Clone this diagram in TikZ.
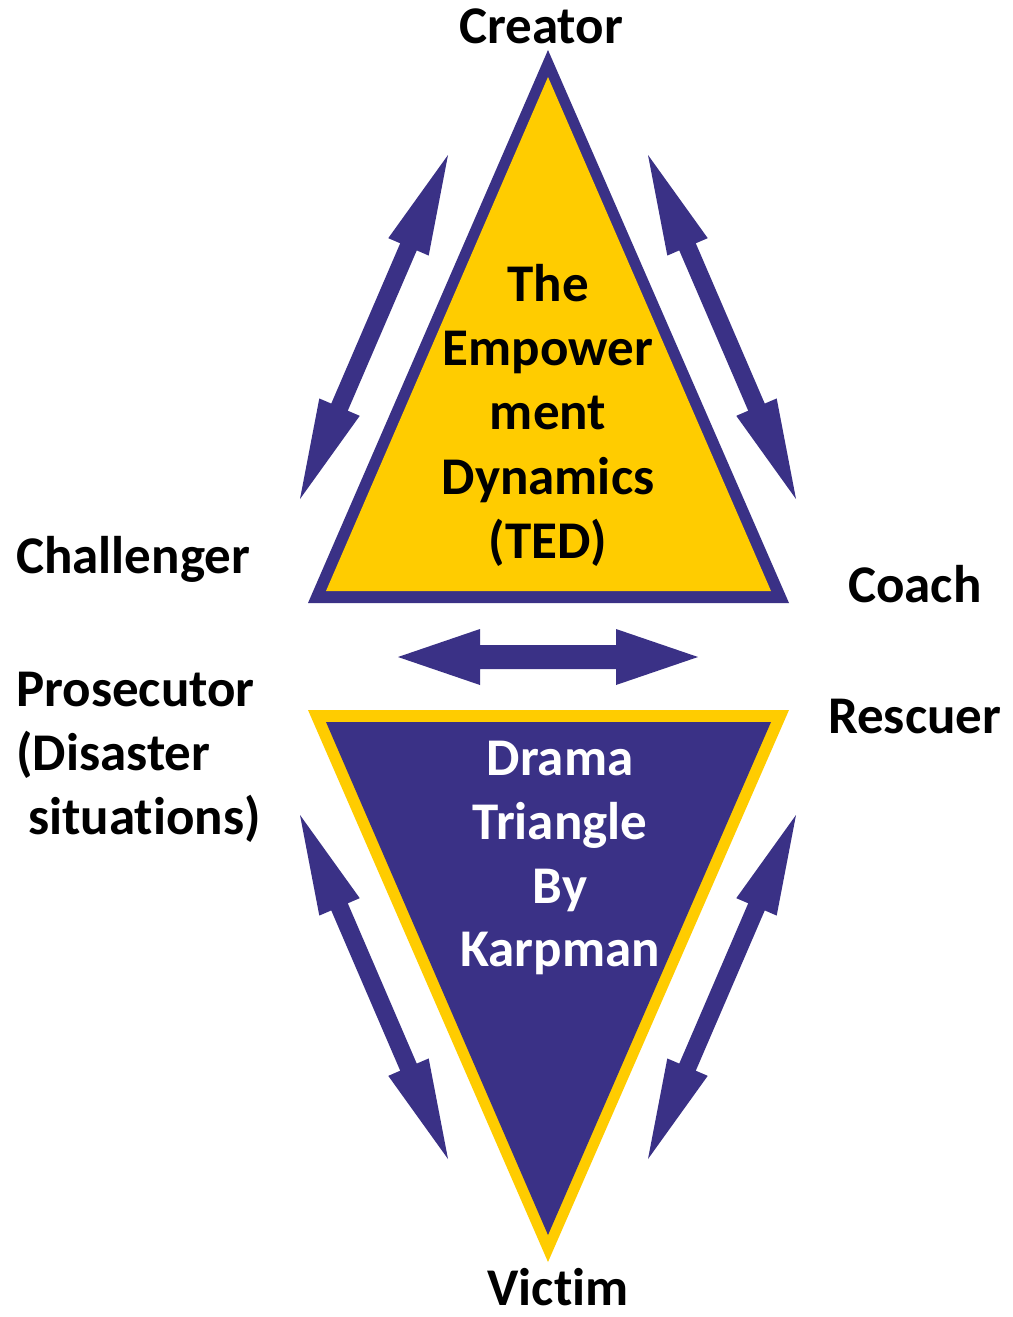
\documentclass[tikz,border=0pt]{standalone}
\usepackage{fontspec}
\setmainfont{Carlito}[Ligatures=NoCommon]
\usetikzlibrary{calc}
\definecolor{navy}{RGB}{58,49,134}
\definecolor{gold}{RGB}{255,204,0}
\newcommand\hlen{100pt}
\newcommand\hwid{22pt}
\newcommand\swid{9pt}
\newcommand\darrow[2]{%
\fill[navy] (#1) -- ($(#1)!\hlen!(#2)!\hwid!90:(#2)$) -- ($(#1)!\hlen!(#2)!\swid!90:(#2)$)
 -- ($(#2)!\hlen!(#1)!\swid!-90:(#1)$) -- ($(#2)!\hlen!(#1)!\hwid!-90:(#1)$) -- (#2)
 -- ($(#2)!\hlen!(#1)!\hwid!90:(#1)$) -- ($(#2)!\hlen!(#1)!\swid!90:(#1)$)
 -- ($(#1)!\hlen!(#2)!\swid!-90:(#2)$) -- ($(#1)!\hlen!(#2)!\hwid!-90:(#2)$) -- cycle;}
\begin{document}
\begin{tikzpicture}[x=1pt,y=-1pt,
  lbl/.style={font=\fontsize{53}{64}\selectfont\bfseries, inner sep=0pt}]
\useasboundingbox[fill=white] (0,0) rectangle (1012,1317);
% upper triangle
\coordinate (ua) at (548,50);
\coordinate (ul) at (308,603);
\coordinate (ur) at (789,603);
\fill[navy] (ua) -- (ur) -- (ul) -- cycle;
\fill[gold] (548,77) -- (771,591) -- (326,591) -- cycle;
% lower triangle
\coordinate (ll) at (308,710);
\coordinate (lr) at (789,710);
\coordinate (lb) at (548,1262);
\fill[gold] (ll) -- (lr) -- (lb) -- cycle;
\fill[navy] (326,722) -- (771,722) -- (548,1235) -- cycle;
% arrows
\coordinate (a1s) at (300,499);
\coordinate (a1e) at (448,155);
\coordinate (a2s) at (648,155);
\coordinate (a2e) at (796,499);
\coordinate (a3s) at (300,815);
\coordinate (a3e) at (448,1159);
\coordinate (a4s) at (796,815);
\coordinate (a4e) at (648,1159);
\darrow{a1s}{a1e}
\darrow{a2s}{a2e}
\darrow{a3s}{a3e}
\darrow{a4s}{a4e}
\renewcommand\hlen{82pt}
\renewcommand\hwid{28pt}
\renewcommand\swid{12pt}
\coordinate (hs) at (398,657);
\coordinate (he) at (698,657);
\darrow{hs}{he}
% texts inside upper triangle
\node[lbl, anchor=base] (t1) at (548,301) {The};
\node[lbl, anchor=base] (t2) at (548,365) {Empower};
\node[lbl, anchor=base] (t3) at (548,429) {ment};
\node[lbl, anchor=base] (t4) at (548,494) {Dynamics};
\node[lbl, anchor=base] (t5) at (548,558) {(TED)};
% texts inside lower triangle
\node[lbl, anchor=base, text=white] (d1) at (560,775) {Drama};
\node[lbl, anchor=base, text=white] (d2) at (560,839) {Triangle};
\node[lbl, anchor=base, text=white] (d3) at (560,903) {By};
\node[lbl, anchor=base, text=white] (d4) at (560,966) {Karpman};
% outer labels
\node[lbl, anchor=base] (creator) at (541,43) {Creator};
\node[lbl, anchor=base west] (chal) at (16,573) {Challenger};
\node[lbl, anchor=base west] (coach) at (848,602) {Coach};
\node[lbl, anchor=base west] (resc) at (828,733) {Rescuer};
\node[lbl, anchor=base west] (p1) at (16,706) {Prosecutor};
\node[lbl, anchor=base west] (p2) at (16,770) {(Disaster};
\node[lbl, anchor=base west] (p3) at (28,834) {situations)};
\node[lbl, anchor=base, text depth=0pt] (victim) at (558,1305) {Victim};
\end{tikzpicture}
\end{document}
